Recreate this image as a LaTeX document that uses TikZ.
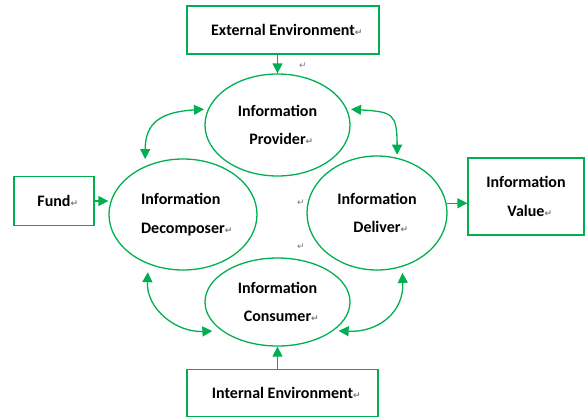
\documentclass[tikz,border=0pt]{standalone}
\usepackage{fontspec}
\setmainfont{Carlito}
\newfontfamily\markfont{DejaVu Sans}
\usetikzlibrary{shapes.geometric,arrows.meta}
\definecolor{flowgreen}{RGB}{0,176,80}
\definecolor{markgray}{RGB}{120,120,120}
% paragraph mark that does not take part in centring
\newcommand{\pmk}{\rlap{\markfont\fontsize{9}{9}\selectfont\textcolor{markgray}{↵}}}
\tikzset{
  lbl/.style={font=\bfseries\fontsize{16}{28.5}\selectfont, text=black},
  roundbox/.style={ellipse, draw=flowgreen, line width=1.3pt, inner sep=0pt, lbl, align=center},
  squarebox/.style={rectangle, draw=flowgreen, line width=1.3pt, inner sep=0pt, lbl, align=center},
  flow/.style={draw=flowgreen, line width=1.3pt, -{Triangle[length=10pt,width=10pt]}},
  twoway/.style={draw=flowgreen, line width=1.3pt, {Triangle[length=10pt,width=10pt]}-{Triangle[length=10pt,width=10pt]}},
  stray/.style={inner sep=0pt, font=\markfont\fontsize{9}{9}\selectfont, text=markgray}
}
\begin{document}
\begin{tikzpicture}[x=1pt,y=-1pt]
\useasboundingbox (0,0) rectangle (585,418);

% outer boxes
\node[squarebox, minimum width=192pt, minimum height=48pt] (ext) at (283,30) {External Environment\pmk};
\node[squarebox, minimum width=191pt, minimum height=47pt] (int) at (282.5,393) {Internal Environment\pmk};
\node[squarebox, minimum width=80pt, minimum height=49pt] (fund) at (54,201) {Fund\pmk};
\node[squarebox, minimum width=116pt, minimum height=77pt] (val) at (526,196.5) {Information\\Value\pmk};

% the four process ellipses
\node[roundbox, minimum width=145pt, minimum height=102pt] (prov) at (277.5,125) {Information\\Provider\pmk};
\node[roundbox, minimum width=148pt, minimum height=111pt, align=left] (decomp) at (183,214.5) {Information\\Decomposer\pmk};
\node[roundbox, minimum width=140pt, minimum height=114pt] (deliv) at (377,213) {Information\\Deliver\pmk};
\node[roundbox, minimum width=145pt, minimum height=88pt] (cons) at (277.5,302) {Information\\Consumer\pmk};

% stray paragraph marks
\node[stray] (m1) at (303,66) {↵};
\node[stray] (m2) at (301,203) {↵};
\node[stray] (m3) at (301,247) {↵};

% straight flows
\draw[flow] (prov.north |- ext.south) -- (prov.north);
\draw[flow] (cons.south |- int.north) -- (cons.south);
\draw[flow] (fund.east) -- (fund.east -| decomp.west);
\draw[flow] (deliv.8) -- (deliv.8 -| val.west);

% curved two-way exchanges
\draw[twoway, shorten <=7pt, shorten >=4pt] (decomp.128) .. controls +(0,-45) and +(-45,3) .. (prov.167);
\draw[twoway, shorten <=4pt, shorten >=3pt] (prov.13) .. controls +(45,3) and +(0,-45) .. (deliv.70);
\draw[twoway, shorten <=8pt, shorten >=9pt] (decomp.235) .. controls +(-2,45) and +(-45,2) .. (cons.207);
\draw[twoway, shorten <=6pt, shorten >=5pt] (deliv.295) .. controls +(2,45) and +(45,2) .. (cons.333);
\end{tikzpicture}
\end{document}
